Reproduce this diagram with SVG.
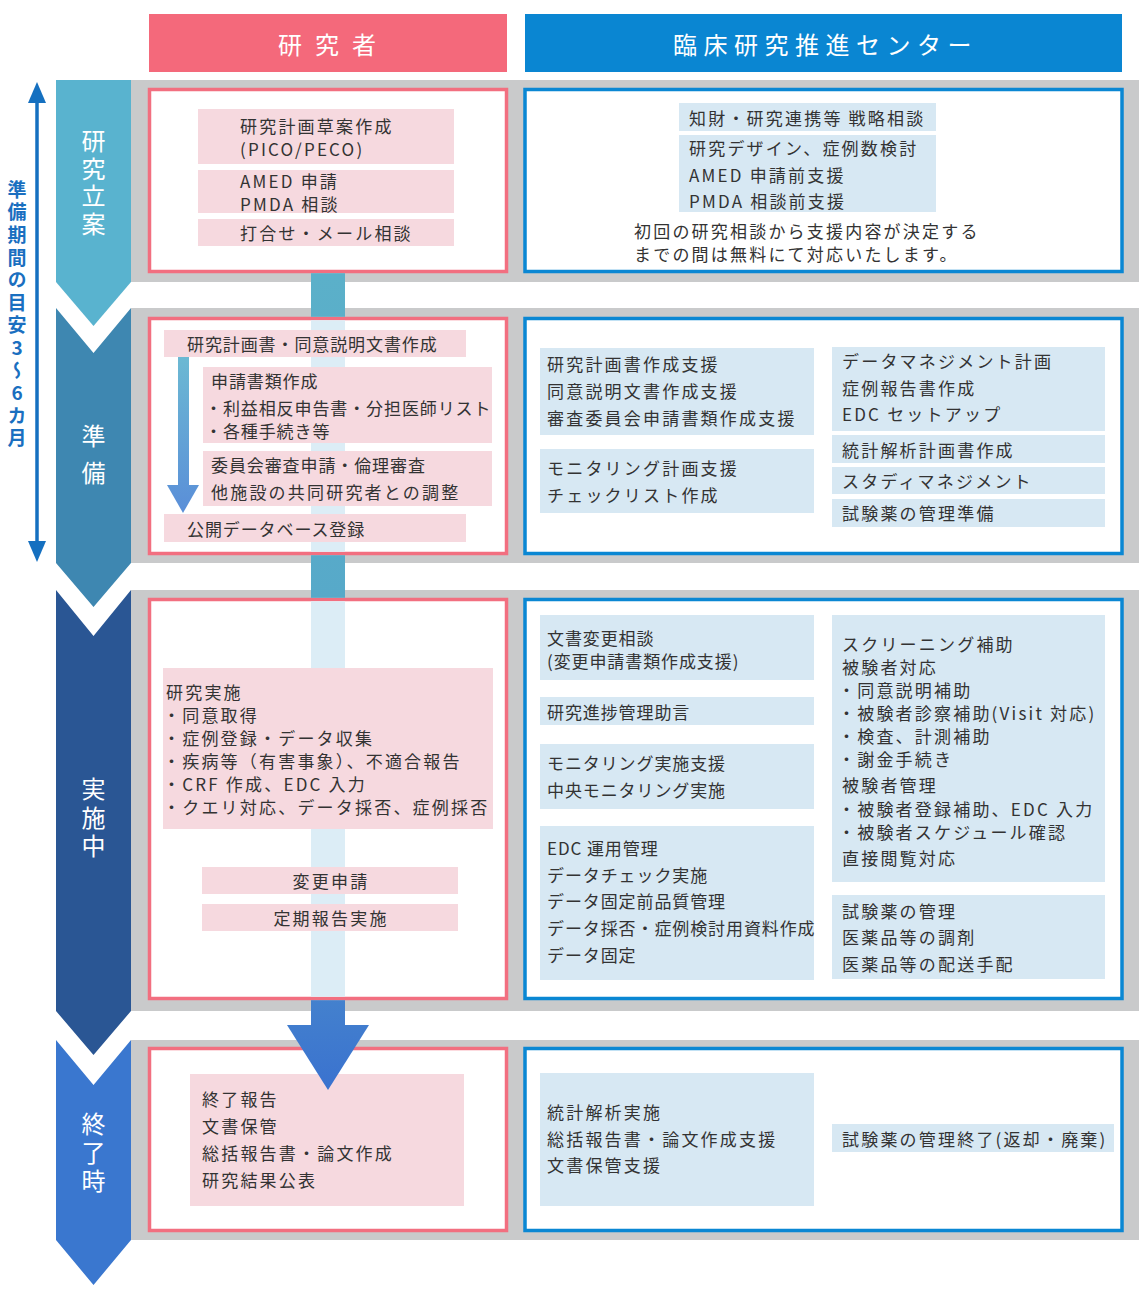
<svg xmlns="http://www.w3.org/2000/svg" width="1139" height="1300" viewBox="0 0 1139 1300">
<style>
.t{font-family:"Noto Sans CJK JP","Noto Sans",sans-serif;font-size:17px;fill:#333;letter-spacing:2.2px;dominant-baseline:central}
.tight{letter-spacing:0.9px}
.mid{text-anchor:middle}
.hd{font-family:"Noto Sans CJK JP","Noto Sans",sans-serif;font-size:24px;fill:#fff;dominant-baseline:central}
.vl{font-family:"Noto Sans CJK JP","Noto Sans",sans-serif;font-size:24px;fill:#fff;writing-mode:vertical-rl;text-orientation:upright}
.band{fill:#c9cacb}
.pbox{fill:#fff;stroke:#f26f80;stroke-width:3.5}
.bbox{fill:#fff;stroke:#0a87d3;stroke-width:3.5}
.pk{fill:#f6d9df}
.lb{fill:#d7e8f3}
.lc{fill:#dcedf6}
</style>
<defs>
<linearGradient id="colg" gradientUnits="userSpaceOnUse" x1="0" y1="273" x2="0" y2="1090">
<stop offset="0" stop-color="#5bb0c9"/>
<stop offset="0.4" stop-color="#57a9c9"/>
<stop offset="0.85" stop-color="#4786cd"/>
<stop offset="1" stop-color="#3a72cf"/>
</linearGradient>
<linearGradient id="smg" gradientUnits="userSpaceOnUse" x1="0" y1="357" x2="0" y2="513">
<stop offset="0" stop-color="#6cb9d3"/>
<stop offset="1" stop-color="#5a8ed8"/>
</linearGradient>
<marker id="ah" viewBox="0 0 21 18" refX="0" refY="9" markerWidth="21" markerHeight="18" markerUnits="userSpaceOnUse" orient="auto-start-reverse">
<path d="M0,0 L21,9 L0,18 z" fill="#1570c0"/>
</marker>
</defs>
<rect width="1139" height="1300" fill="#fff"/>

<!-- bands -->
<g id="bands">
<rect class="band" x="131" y="80" width="1008" height="202"/>
<rect class="band" x="131" y="308" width="1008" height="255"/>
<rect class="band" x="131" y="590" width="1008" height="421"/>
<rect class="band" x="131" y="1040" width="1008" height="200"/>
</g>

<!-- phase chevrons -->
<g id="phase1">
<polygon points="56,80 131,80 131,282 93.5,326 56,282" fill="#59b3cf"/>
<text class="vl" x="93.5" y="129" style="letter-spacing:3.5px">研究立案</text>
</g>
<g id="phase2">
<polygon points="56,308 93.5,353 131,308 131,563 93.5,607 56,563" fill="#3e87b1"/>
<text class="vl" x="93.5" y="424" style="letter-spacing:13px">準備</text>
</g>
<g id="phase3">
<polygon points="56,590 93.5,636 131,590 131,1011 93.5,1055 56,1011" fill="#2a5694"/>
<text class="vl" x="93.5" y="777" style="letter-spacing:4.5px">実施中</text>
</g>
<g id="phase4">
<polygon points="56,1040 93.5,1085 131,1040 131,1240 93.5,1285 56,1240" fill="#3a77cf"/>
<text class="vl" x="93.5" y="1112" style="letter-spacing:4.5px">終了時</text>
</g>

<!-- headers -->
<g id="hdr-researcher">
<rect x="149" y="14" width="358" height="58" fill="#f4697b"/>
<text class="hd" x="278" y="43" style="letter-spacing:13px">研究者</text>
</g>
<g id="hdr-center">
<rect x="525" y="14" width="597" height="58" fill="#0a86d2"/>
<text class="hd" x="673" y="43" style="letter-spacing:6.5px">臨床研究推進センター</text>
</g>

<!-- period label -->
<g id="period">
<text x="17" y="180" style="font-family:'Noto Sans CJK JP','Noto Sans',sans-serif;font-size:19px;font-weight:bold;fill:#1a6fc0;writing-mode:vertical-rl;text-orientation:upright;letter-spacing:3.6px">準備期間の目安3〜6カ月</text>
</g>

<!-- boxes -->
<g id="box-r1-p"><rect class="pbox" x="149.5" y="89.5" width="357" height="182"/></g>
<g id="box-r1-b"><rect class="bbox" x="525" y="89.5" width="597" height="182"/></g>
<g id="box-r2-p"><rect class="pbox" x="149.5" y="318.5" width="357" height="235"/><rect class="lc" x="311" y="320.3" width="34" height="231.4"/></g>
<g id="box-r2-b"><rect class="bbox" x="525" y="318.5" width="597" height="235"/></g>
<g id="box-r3-p"><rect class="pbox" x="149.5" y="599.5" width="357" height="399"/><rect class="lc" x="311" y="601.3" width="34" height="395.4"/></g>
<g id="box-r3-b"><rect class="bbox" x="525" y="599.5" width="597" height="399"/></g>
<g id="box-r4-p"><rect class="pbox" x="149.5" y="1048.5" width="357" height="182"/></g>
<g id="box-r4-b"><rect class="bbox" x="525" y="1048.5" width="597" height="182"/></g>

<!-- row1 researcher -->
<g id="n1"><rect class="pk" x="198" y="109" width="256" height="55"/>
<text class="t" x="240" y="125">研究計画草案作成</text>
<text class="t" x="240" y="148">(PICO/PECO)</text></g>
<g id="n2"><rect class="pk" x="198" y="170" width="256" height="43"/>
<text class="t" x="240" y="180">AMED 申請</text>
<text class="t" x="240" y="203">PMDA 相談</text></g>
<g id="n3"><rect class="pk" x="198" y="219" width="256" height="27"/>
<text class="t" x="240" y="232">打合せ・メール相談</text></g>

<!-- row1 center -->
<g id="n4"><rect class="lb" x="679" y="103" width="257" height="28"/>
<text class="t" x="689" y="117">知財・研究連携等 戦略相談</text></g>
<g id="n5"><rect class="lb" x="679" y="135" width="257" height="77"/>
<text class="t" x="689" y="147">研究デザイン、症例数検討</text>
<text class="t" x="689" y="174">AMED 申請前支援</text>
<text class="t" x="689" y="200">PMDA 相談前支援</text></g>
<g id="n6">
<text class="t" x="634" y="230">初回の研究相談から支援内容が決定する</text>
<text class="t" x="634" y="253">までの間は無料にて対応いたします。</text></g>

<!-- row2 researcher -->
<g id="n7"><rect class="pk" x="164" y="330" width="302" height="27"/>
<text class="t tight" x="187" y="343">研究計画書・同意説明文書作成</text></g>
<g id="n8"><rect class="pk" x="203" y="367" width="289" height="76"/>
<text class="t tight" x="211" y="380">申請書類作成</text>
<text class="t tight" x="205" y="407">・利益相反申告書・分担医師リスト</text>
<text class="t tight" x="205" y="430">・各種手続き等</text></g>
<g id="n9"><rect class="pk" x="203" y="451" width="289" height="55"/>
<text class="t tight" x="211" y="464">委員会審査申請・倫理審査</text>
<text class="t" x="211" y="491">他施設の共同研究者との調整</text></g>
<g id="n10"><rect class="pk" x="164" y="514" width="302" height="28"/>
<text class="t tight" x="187" y="528">公開データベース登録</text></g>

<!-- row2 center -->
<g id="n11"><rect class="lb" x="540" y="348" width="274" height="87"/>
<text class="t" x="547" y="363">研究計画書作成支援</text>
<text class="t" x="547" y="390">同意説明文書作成支援</text>
<text class="t" x="547" y="417">審査委員会申請書類作成支援</text></g>
<g id="n12"><rect class="lb" x="540" y="449" width="274" height="64"/>
<text class="t" x="547" y="467">モニタリング計画支援</text>
<text class="t" x="547" y="494">チェックリスト作成</text></g>
<g id="n13"><rect class="lb" x="832" y="347" width="273" height="84"/>
<text class="t" x="842" y="360">データマネジメント計画</text>
<text class="t" x="842" y="387">症例報告書作成</text>
<text class="t" x="842" y="413">EDC セットアップ</text></g>
<g id="n14"><rect class="lb" x="832" y="435" width="273" height="28"/>
<text class="t" x="842" y="449">統計解析計画書作成</text></g>
<g id="n15"><rect class="lb" x="832" y="467" width="273" height="27"/>
<text class="t" x="842" y="480">スタディマネジメント</text></g>
<g id="n16"><rect class="lb" x="832" y="499" width="273" height="28"/>
<text class="t" x="842" y="512">試験薬の管理準備</text></g>

<!-- row3 researcher -->
<g id="n17"><rect class="pk" x="163" y="668" width="330" height="161"/>
<text class="t" x="166" y="691">研究実施</text>
<text class="t" x="163" y="714">・同意取得</text>
<text class="t" x="163" y="737">・症例登録・データ収集</text>
<text class="t" x="163" y="760">・疾病等（有害事象）、不適合報告</text>
<text class="t" x="163" y="783">・CRF 作成、EDC 入力</text>
<text class="t" x="163" y="806">・クエリ対応、データ採否、症例採否</text></g>
<g id="n18"><rect class="pk" x="202" y="867" width="256" height="27"/>
<text class="t mid" x="331" y="880">変更申請</text></g>
<g id="n19"><rect class="pk" x="202" y="904" width="256" height="27"/>
<text class="t mid" x="331" y="917">定期報告実施</text></g>

<!-- row3 center -->
<g id="n20"><rect class="lb" x="540" y="615" width="274" height="65"/>
<text class="t tight" x="547" y="637">文書変更相談</text>
<text class="t tight" x="547" y="660">(変更申請書類作成支援)</text></g>
<g id="n21"><rect class="lb" x="540" y="697" width="274" height="28"/>
<text class="t tight" x="547" y="711">研究進捗管理助言</text></g>
<g id="n22"><rect class="lb" x="540" y="744" width="274" height="65"/>
<text class="t tight" x="547" y="762">モニタリング実施支援</text>
<text class="t tight" x="547" y="789">中央モニタリング実施</text></g>
<g id="n23"><rect class="lb" x="540" y="826" width="274" height="154"/>
<text class="t tight" x="547" y="847">EDC 運用管理</text>
<text class="t tight" x="547" y="874">データチェック実施</text>
<text class="t tight" x="547" y="900">データ固定前品質管理</text>
<text class="t tight" x="547" y="927">データ採否・症例検討用資料作成</text>
<text class="t tight" x="547" y="954">データ固定</text></g>
<g id="n24"><rect class="lb" x="832" y="615" width="273" height="267"/>
<text class="t" x="842" y="643">スクリーニング補助</text>
<text class="t" x="842" y="666">被験者対応</text>
<text class="t" x="838" y="689">・同意説明補助</text>
<text class="t" x="838" y="712">・被験者診察補助(Visit 対応)</text>
<text class="t" x="838" y="735">・検査、計測補助</text>
<text class="t" x="838" y="758">・謝金手続き</text>
<text class="t" x="842" y="784">被験者管理</text>
<text class="t" x="838" y="808">・被験者登録補助、EDC 入力</text>
<text class="t" x="838" y="831">・被験者スケジュール確認</text>
<text class="t" x="842" y="857">直接閲覧対応</text></g>
<g id="n25"><rect class="lb" x="832" y="895" width="273" height="84"/>
<text class="t" x="842" y="910">試験薬の管理</text>
<text class="t" x="842" y="936">医薬品等の調剤</text>
<text class="t" x="842" y="963">医薬品等の配送手配</text></g>

<!-- row4 researcher -->
<g id="n26"><rect class="pk" x="190" y="1074" width="274" height="132"/>
<text class="t" x="202" y="1098">終了報告</text>
<text class="t" x="202" y="1125">文書保管</text>
<text class="t" x="202" y="1152">総括報告書・論文作成</text>
<text class="t" x="202" y="1179">研究結果公表</text></g>

<!-- row4 center -->
<g id="n27"><rect class="lb" x="540" y="1073" width="274" height="133"/>
<text class="t" x="547" y="1111">統計解析実施</text>
<text class="t" x="547" y="1138">総括報告書・論文作成支援</text>
<text class="t" x="547" y="1164">文書保管支援</text></g>
<g id="n28"><rect class="lb" x="832" y="1124" width="282" height="28"/>
<text class="t" x="842" y="1138">試験薬の管理終了(返却・廃棄)</text></g>

<!-- connectors -->
<g id="connectors">
<rect x="311" y="273.2" width="34" height="43.6" fill="url(#colg)"/>
<rect x="311" y="555.2" width="34" height="42.6" fill="url(#colg)"/>
<rect x="311" y="1000.2" width="34" height="26" fill="url(#colg)"/>
<polygon points="287,1025 369,1025 328,1090" fill="url(#colg)"/>
<rect x="178" y="357" width="11" height="129" fill="url(#smg)"/>
<polygon points="167,485 199,485 183,513" fill="url(#smg)"/>
<line x1="37" y1="103" x2="37" y2="541" stroke="#1570c0" stroke-width="3.5" marker-start="url(#ah)" marker-end="url(#ah)"/>
</g>
</svg>
